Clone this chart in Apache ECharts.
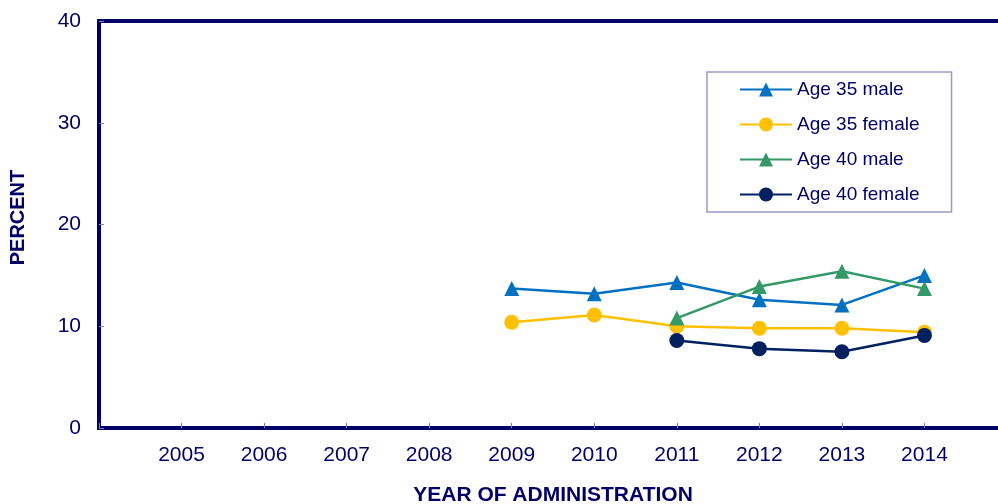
<!DOCTYPE html>
<html>
<head>
<meta charset="utf-8">
<script src="https://cdn.jsdelivr.net/npm/echarts@6/dist/echarts.min.js"></script>
<style>
  html, body { margin: 0; padding: 0; background: #fff; overflow: hidden; }
  #chart { width: 998px; height: 504px; }
</style>
</head>
<body>
<div id="chart"></div>
<script>
// Years of administration (blank slots pad the axis at both ends)
const years = ['', '2005', '2006', '2007', '2008', '2009', '2010', '2011', '2012', '2013', '2014', ''];

// Percent values per group, aligned with the years above
const age35Male   = [null, null, null, null, null, 13.7, 13.2, 14.3, 12.6, 12.1, 15.0, null];
const age35Female = [null, null, null, null, null, 10.4, 11.1, 10.0,  9.8,  9.8,  9.4, null];
const age40Male   = [null, null, null, null, null, null, null, 10.8, 13.9, 15.4, 13.7, null];
const age40Female = [null, null, null, null, null, null, null,  8.6,  7.8,  7.5,  9.1, null];

const seriesNames = ['Age 35 male', 'Age 35 female', 'Age 40 male', 'Age 40 female'];
const yTicks = [0, 10, 20, 30, 40];

const navy = '#000066';
const font = 'Liberation Sans, Arial, sans-serif';

function lineSeries(name, data, color, symbol) {
  return {
    name: name,
    type: 'line',
    data: data,
    symbol: symbol,
    symbolSize: 15,
    showAllSymbol: true,
    connectNulls: false,
    lineStyle: { color: color, width: 2.5 },
    itemStyle: { color: color },
    emphasis: { disabled: true }
  };
}

const chart = echarts.init(document.getElementById('chart'), null, { renderer: 'canvas' });
chart.setOption({
  animation: false,
  backgroundColor: '#ffffff',
  grid: {
    left: 99, top: 21, width: 908, height: 407,
    containLabel: false,
    outerBoundsMode: 'none',
    show: true, borderColor: navy, borderWidth: 4, backgroundColor: 'transparent'
  },
  legend: {
    data: seriesNames,
    orient: 'vertical',
    left: 707, top: 72,
    itemWidth: 52, itemHeight: 17.5,
    itemGap: 16,
    padding: [8, 32, 8, 32],
    borderColor: '#9b9bc8', borderWidth: 1.5,
    textStyle: { color: navy, fontSize: 19, fontFamily: font }
  },
  xAxis: {
    type: 'category',
    data: years,
    boundaryGap: false,
    name: 'YEAR OF ADMINISTRATION',
    nameLocation: 'middle',
    nameGap: 57,
    nameTextStyle: { color: navy, fontSize: 21, fontWeight: 'bold', fontFamily: font },
    axisLine: { show: false },
    axisTick: { show: true, inside: true, length: 5, lineStyle: { color: '#7f7fb2', width: 1 } },
    axisLabel: { color: navy, fontSize: 21, fontFamily: font, margin: 17, interval: 0 },
    splitLine: { show: false }
  },
  yAxis: {
    type: 'value',
    min: yTicks[0], max: yTicks[yTicks.length - 1], interval: 10,
    name: 'PERCENT',
    nameLocation: 'middle',
    nameGap: 71,
    nameTextStyle: { color: navy, fontSize: 20, fontWeight: 'bold', fontFamily: font, padding: [0, 0, 0, 14] },
    axisLine: { show: false },
    axisTick: { show: true, inside: true, length: 5, lineStyle: { color: '#7f7fb2', width: 1 } },
    axisLabel: { color: navy, fontSize: 21, fontFamily: font, margin: 18 },
    splitLine: { show: false }
  },
  series: [
    lineSeries(seriesNames[0], age35Male, '#0070C0', 'triangle'),
    lineSeries(seriesNames[1], age35Female, '#FFC000', 'circle'),
    lineSeries(seriesNames[2], age40Male, '#339966', 'triangle'),
    lineSeries(seriesNames[3], age40Female, '#002060', 'circle')
  ]
});
</script>
</body>
</html>
